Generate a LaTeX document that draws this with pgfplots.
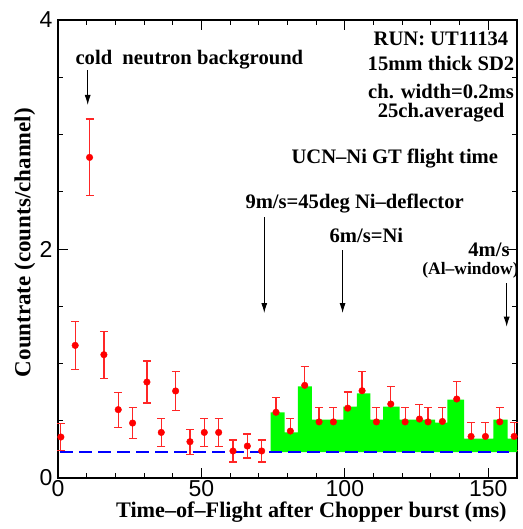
\documentclass[border=0pt]{standalone}
\usepackage{pgfplots}
\pgfplotsset{compat=1.18}
\usepackage{pgfplotstable}
\usepackage{fontspec}
\setmainfont{Liberation Serif}
\setsansfont{Liberation Sans}
\usetikzlibrary{arrows.meta}

% time-of-flight spectrum, 5 ms bins
\pgfplotstableread{
x    y     e
1    0.358 0.120
6    1.158 0.210
11   2.800 0.335
16   1.077 0.205
21   0.597 0.153
26   0.480 0.138
31   0.838 0.183
36   0.398 0.122
41   0.760 0.170
46   0.317 0.110
51   0.398 0.122
56   0.398 0.122
61   0.236 0.096
66   0.279 0.105
71   0.236 0.096
76   0.574 0.130
81   0.410 0.110
86   0.809 0.166
91   0.490 0.127
96   0.490 0.127
101  0.610 0.141
106  0.762 0.170
111  0.490 0.127
116  0.646 0.150
121  0.490 0.127
126  0.515 0.128
129  0.490 0.127
134  0.494 0.123
139  0.690 0.150
144  0.363 0.120
149  0.363 0.120
154  0.490 0.127
159  0.363 0.120
}\tof

% UCN histogram (left edge, level)
\pgfplotstableread{
x     y
74.1  0.227
74.1  0.573
79.0  0.398
83.6  0.800
88.5  0.509
99.5  0.623
104.2 0.739
108.9 0.509
113.3 0.623
119.1 0.509
131.5 0.483
135.7 0.684
141.6 0.343
151.8 0.509
156.7 0.343
160.0 0.227
}\ucn

\newcommand{\anno}{\bfseries\fontsize{20.6bp}{22bp}\selectfont}
\newcommand{\ticks}{\sffamily\fontsize{23bp}{23bp}\selectfont}

\begin{document}
\begin{tikzpicture}
\begin{axis}[
  name=ax,
  scale only axis,
  width=459bp, height=458bp,
  xmin=0, xmax=160, ymin=0, ymax=4,
  clip=false,
  axis line style={line width=1.6bp},
  xtick={0,50,100,150},
  ytick={0,2,4},
  minor x tick num=4,
  minor y tick num=3,
  tick align=inside,
  major tick length=10bp,
  minor tick length=5bp,
  every tick/.style={black, line width=0.9bp},
  /pgf/number format/assume math mode=true,
  xticklabel style={font=\ticks, yshift=1bp},
  yticklabel style={font=\ticks, xshift=-2bp},
  xlabel={Time–of–Flight after Chopper burst (ms)},
  ylabel={Countrate (counts/channel)},
  xlabel style={font=\bfseries\fontsize{22.2bp}{24bp}\selectfont,
    at={(axis description cs:0.552,-0.087)}, anchor=base},
  ylabel style={font=\bfseries\fontsize{23bp}{24bp}\selectfont,
    at={(axis description cs:-0.072,0.514)}, anchor=center},
]
\addplot[red, only marks, mark=*, mark size=3.3bp,
  error bars/.cd, y dir=both, y explicit,
  error bar style={red!85, line width=1.2bp},
  error mark options={red!85, line width=1.2bp, rotate=90, mark size=4bp}]
  table[x=x, y=y, y error=e] {\tof};

\addplot[fill=green, draw=none, const plot mark left] table[x=x, y=y] {\ucn};

\addplot[blue, line width=1.5bp, dash pattern=on 13bp off 6bp]
  coordinates {(0.7,0.225) (157.3,0.225)};

\node[font=\anno, anchor=base] at (axis cs:45.8,3.607) {cold\ \ neutron background};
\draw[line width=0.9bp, -{Latex[length=10bp,width=6bp]}] (axis cs:10.35,3.563) -- (axis cs:10.35,3.258);

\node[font=\anno, anchor=base] at (axis cs:133.5,3.773) {RUN: UT11134};
\node[font=\anno, anchor=base] at (axis cs:133.5,3.557) {15mm thick SD2};
\node[font=\anno, anchor=base] at (axis cs:133.5,3.316) {ch. width=0.2ms};
\node[font=\anno, anchor=base] at (axis cs:133.5,3.150) {25ch.averaged};

\node[font=\anno, anchor=base] at (axis cs:117.4,2.751) {UCN–Ni GT flight time};

\node[font=\anno, anchor=base] at (axis cs:103.4,2.358) {9m/s=45deg Ni–deflector};
\draw[line width=0.9bp, -{Latex[length=10bp,width=6bp]}] (axis cs:71.9,2.279) -- (axis cs:71.9,1.441);

\node[font=\anno, anchor=base] at (axis cs:107.5,2.059) {6m/s=Ni};
\draw[line width=0.9bp, -{Latex[length=10bp,width=6bp]}] (axis cs:99.2,1.991) -- (axis cs:99.2,1.441);

\node[font=\anno, anchor=base east, inner sep=0pt] at (axis cs:157.5,1.937) {4m/s};
\node[font=\bfseries\fontsize{17.5bp}{18bp}\selectfont, anchor=base, inner sep=0pt] at (axis cs:143.8,1.775) {(Al–window)};
\draw[line width=0.9bp, -{Latex[length=10bp,width=6bp]}] (axis cs:156.4,1.70) -- (axis cs:156.4,1.321);
\end{axis}
\pgfresetboundingbox
\path[use as bounding box] ([shift={(-58bp,-51bp)}]ax.south west) rectangle ++(523bp,529bp);
\end{tikzpicture}
\end{document}
